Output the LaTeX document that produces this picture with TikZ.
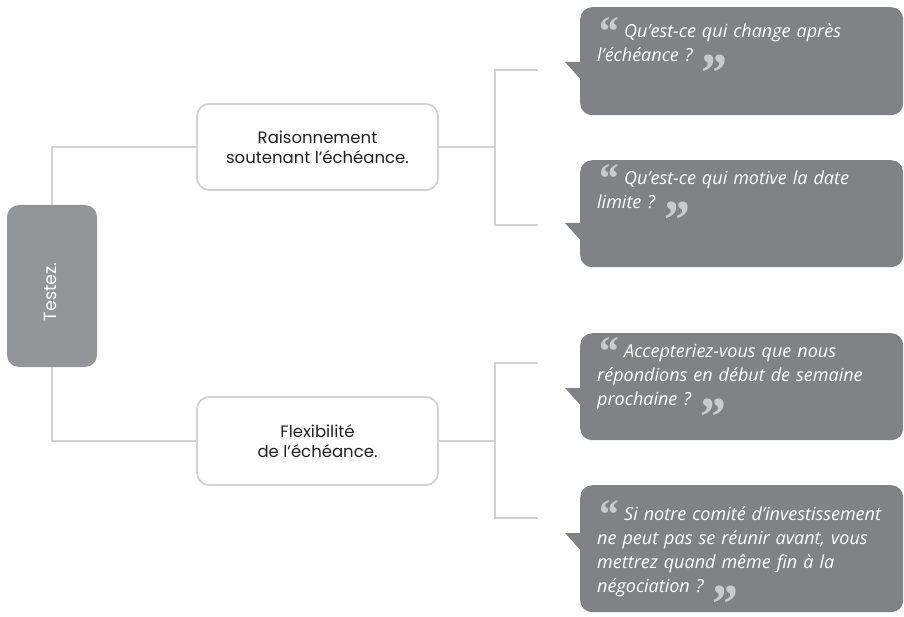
\documentclass[tikz,border=0pt]{standalone}
\usepackage{fontspec}
\setmainfont{Poppins}
\newfontfamily\speechfont{Open Sans}
\newfontfamily\markfont{Liberation Serif}
\definecolor{rootgray}{HTML}{939598}
\definecolor{bubblegray}{HTML}{808285}
\definecolor{linegray}{HTML}{D1D2D4}
\definecolor{markgray}{HTML}{C9CACC}
\definecolor{inkgray}{HTML}{231F20}

% quotation marks around each question (smashed so they keep the line spacing)
\newcommand\openmark{\smash{\raisebox{-8pt}{\markfont\bfseries\fontsize{42}{42}\selectfont\color{markgray}“}}}
\newcommand\closemark{\smash{\raisebox{-30pt}{\markfont\bfseries\fontsize{55}{55}\selectfont\color{markgray}”}}}

\tikzset{
  rootbox/.style={fill=rootgray, rounded corners=12pt, minimum width=90pt,
    minimum height=162pt, inner sep=0pt},
  rootlabel/.style={rotate=90, inner sep=0pt, text=white,
    font=\fontsize{17.5}{20}\selectfont},
  topicbox/.style={draw=linegray, line width=1.8pt, fill=white, rounded corners=12pt,
    minimum width=241pt, minimum height=86pt, align=center, inner sep=0pt,
    font=\fontsize{16.5}{20}\selectfont, text=inkgray},
  bubble/.style={fill=bubblegray, rounded corners=12pt, anchor=north west,
    minimum width=323pt, inner sep=0pt},
  bubbletext/.style={anchor=base west, inner sep=0pt, text width=300pt, align=left,
    text=white, font=\speechfont\itshape\fontsize{18}{24}\selectfont},
  link/.style={draw=linegray, line width=2pt},
}

\begin{document}
\begin{tikzpicture}[x=1pt, y=-1pt]
  \useasboundingbox (0,0) rectangle (904,617);

  % root and topics
  \node[rootbox] (root) at (52,286) {};
  \node[rootlabel] (rootname) at (50,292) {Testez.};
  \node[topicbox] (topicA) at (317.5,147) {Raisonnement\\soutenant l’échéance.};
  \node[topicbox, minimum height=88pt] (topicB) at (317.5,441) {Flexibilité\\de l’échéance.};

  % tree connectors
  \draw[link] (root.north) |- (topicA.west);
  \draw[link] (root.south) |- (topicB.west);

  \coordinate (forkA) at (495,147);
  \coordinate (endA1) at (538,70);
  \coordinate (endA2) at (538,225);
  \coordinate (forkB) at (495,441);
  \coordinate (endB1) at (538,363);
  \coordinate (endB2) at (538,518);
  \draw[link] (topicA.east) -- (forkA);
  \draw[link] (endA1) -| (forkA) |- (endA2);
  \draw[link] (topicB.east) -- (forkB);
  \draw[link] (endB1) -| (forkB) |- (endB2);

  % speech bubbles
  \node[bubble, minimum height=108pt] (q1) at (580,7) {};
  \node[bubble, minimum height=107pt] (q2) at (580,160) {};
  \node[bubble, minimum height=107pt] (q3) at (580,333) {};
  \node[bubble, minimum height=127pt] (q4) at (580,485) {};

  % bubble tails
  \fill[bubblegray] (565,62) -- (592,62) -- (592,92) -- cycle;
  \fill[bubblegray] (565,223) -- (592,223) -- (592,253) -- cycle;
  \fill[bubblegray] (565,388) -- (592,388) -- (592,418) -- cycle;
  \fill[bubblegray] (565,533) -- (592,533) -- (592,563) -- cycle;

  % questions
  \node[bubbletext] (t1) at (597,38)
    {\openmark\ Qu’est-ce qui change après\\l’échéance ?\ \closemark};
  \node[bubbletext] (t2) at (597,185)
    {\openmark\ Qu’est-ce qui motive la date\\limite ?\ \closemark};
  \node[bubbletext] (t3) at (597,357)
    {\openmark\ Accepteriez-vous que nous\\répondions en début de semaine\\prochaine ?\ \closemark};
  \node[bubbletext] (t4) at (597,520)
    {\openmark\ Si notre comité d’investissement\\ne peut pas se réunir avant, vous\\mettrez quand même fin à la\\négociation ?\ \closemark};
\end{tikzpicture}
\end{document}
